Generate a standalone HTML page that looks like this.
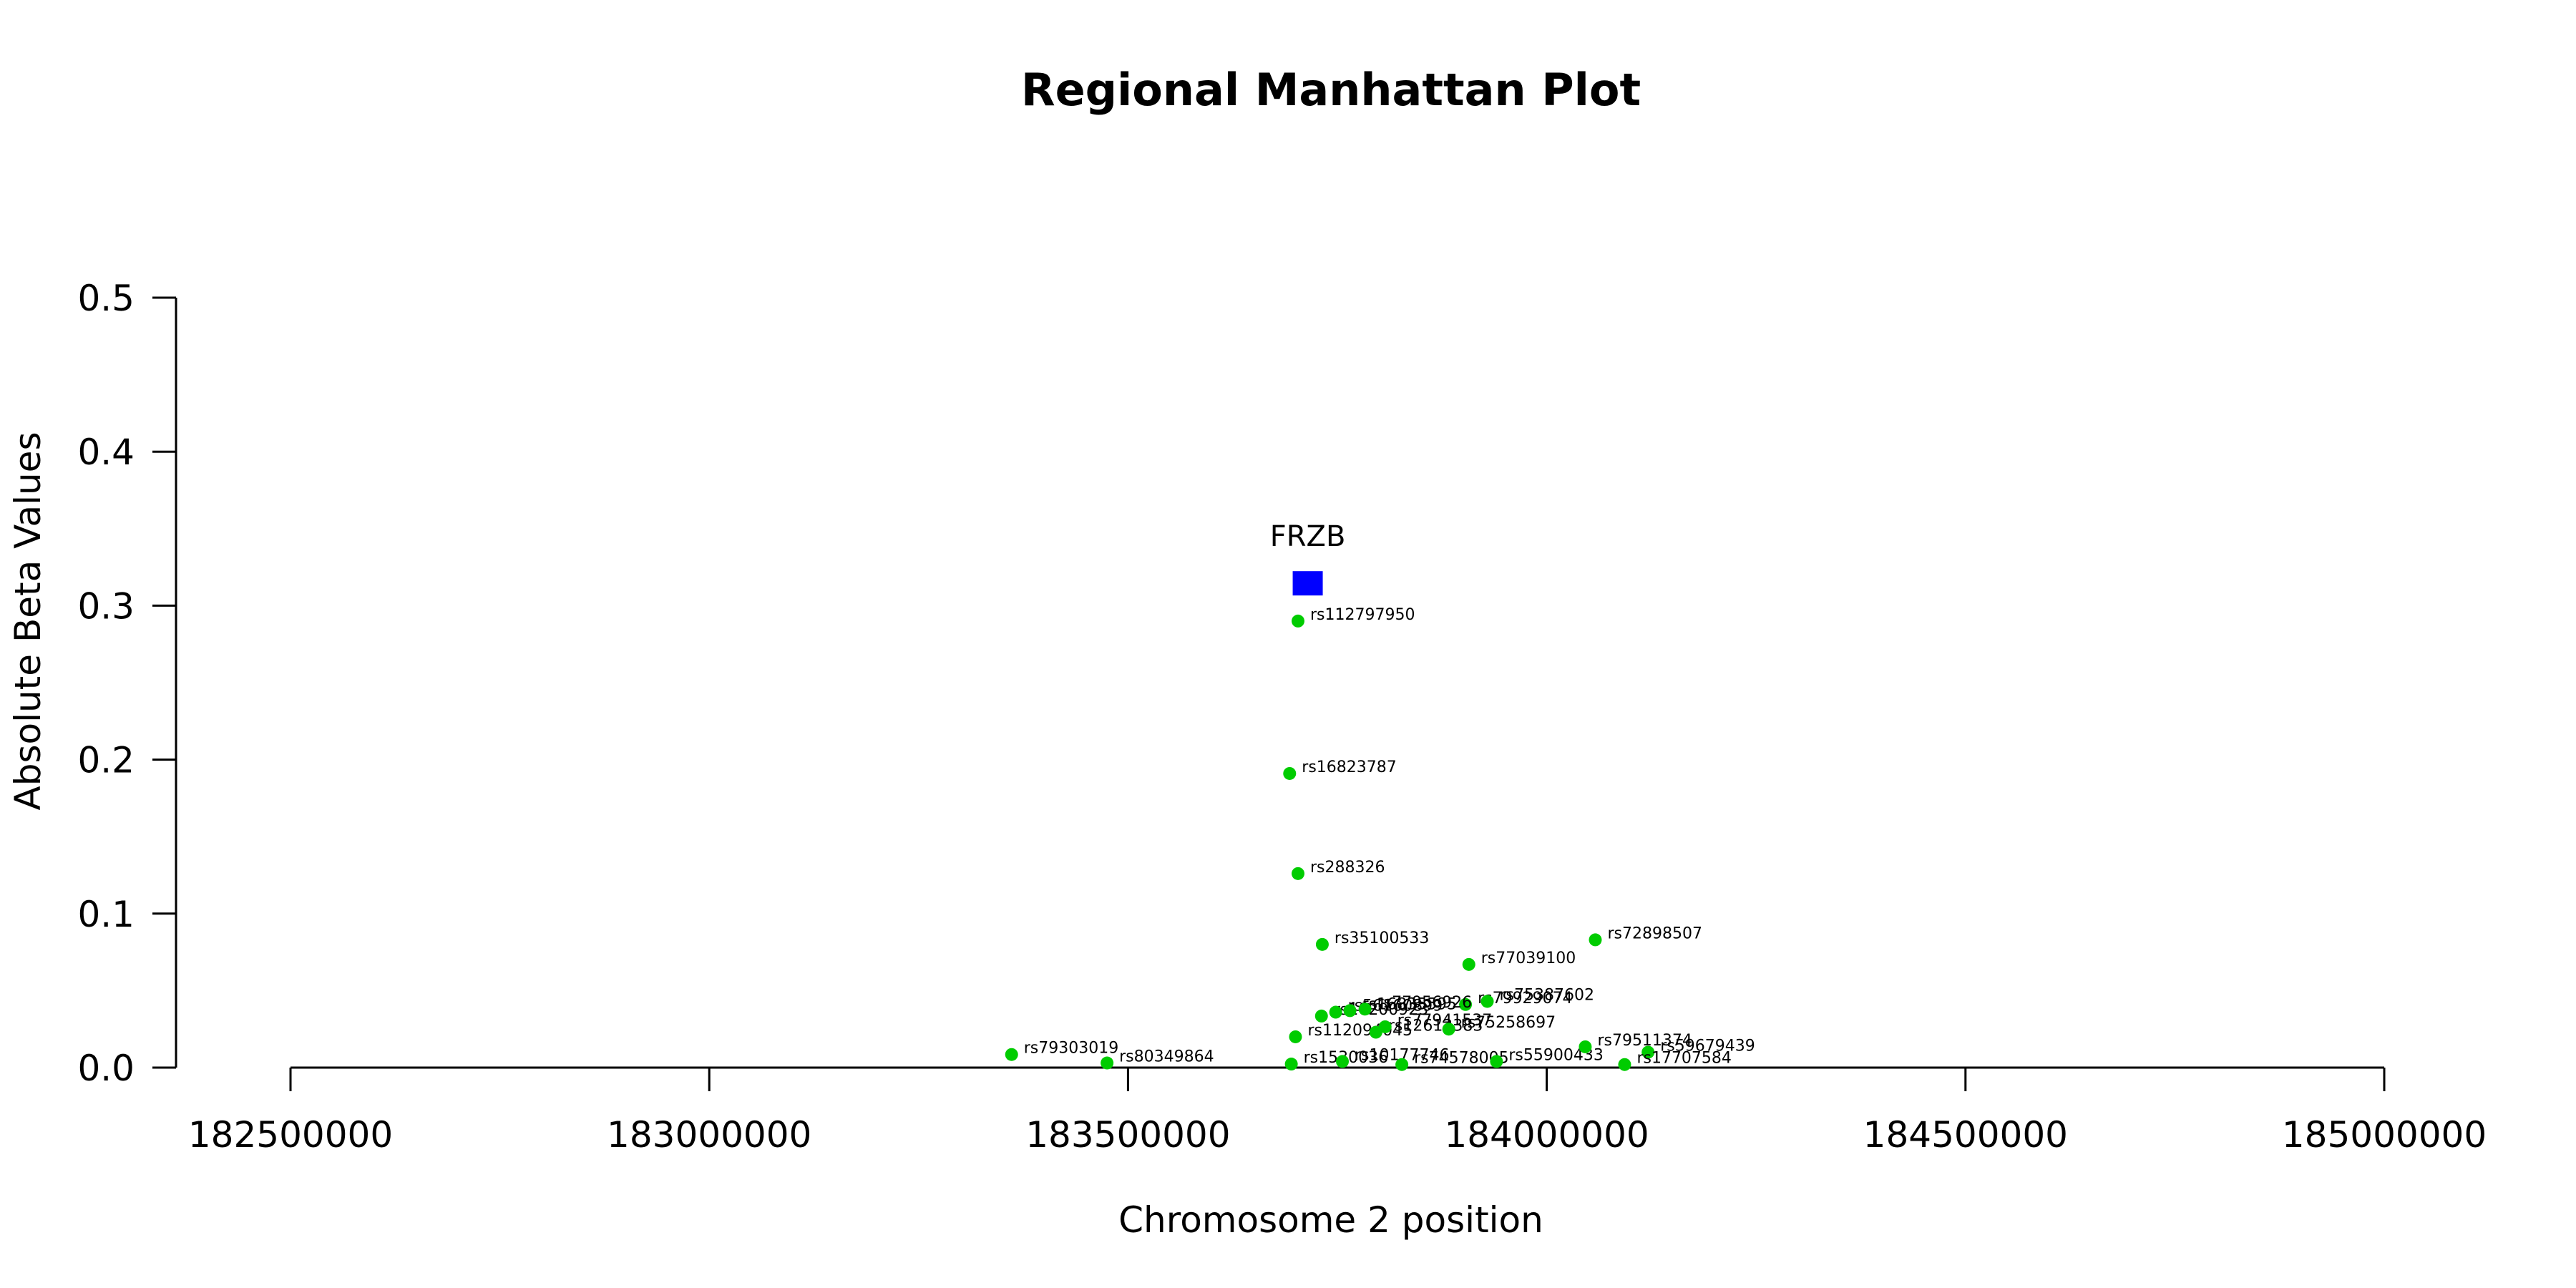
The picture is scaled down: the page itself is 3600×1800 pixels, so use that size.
<!DOCTYPE html>
<html><head><meta charset="utf-8"><style>
html,body{margin:0;padding:0;background:#fff;}
svg{display:block;font-family:"DejaVu Sans","Liberation Sans",sans-serif;}
</style></head><body>
<svg id="chart" width="3600" height="1800" viewBox="0 0 3600 1800" xmlns="http://www.w3.org/2000/svg">
<rect width="3600" height="1800" fill="#fff"/>
<text x="1860" y="147" text-anchor="middle" font-size="62" font-weight="bold">Regional Manhattan Plot</text>
<text x="1860" y="1722" text-anchor="middle" font-size="50">Chromosome 2 position</text>
<text transform="translate(56,868) rotate(-90)" text-anchor="middle" font-size="50">Absolute Beta Values</text>
<g id="axes"></g>
<g id="marks"></g>
</svg>
<script>
const snpNames = ["rs112797950","rs16823787","rs288326","rs35100533","rs77039100","rs72898507","rs79929074","rs75387602","rs10200923","rs56160899","rs16835595","rs77956926","rs112094045","rs12612383","rs77941537","rs75258697","rs1530036","rs10177746","rs74578005","rs55900433","rs79511374","rs59679439","rs17707584","rs79303019","rs80349864"];
const snpPos = [183703000,183693000,183703000,183732000,183907000,184058000,183903000,183929000,183731000,183748000,183765000,183783000,183700000,183796000,183807000,183883000,183695000,183756000,183827000,183940000,184046000,184121000,184093000,183361000,183475000];
const snpBeta = [0.290,0.191,0.126,0.080,0.067,0.083,0.041,0.043,0.0335,0.036,0.037,0.038,0.020,0.023,0.0265,0.025,0.0023,0.004,0.002,0.004,0.0135,0.010,0.002,0.0085,0.003];
const geneNames = ["FRZB"];
const genePos = [183714600];
const geneBeta = [0.3145];
const xTicks = [182500000,183000000,183500000,184000000,184500000,185000000];
const yTicks = [0.0,0.1,0.2,0.3,0.4,0.5];
const yTickLabels = ["0.0","0.1","0.2","0.3","0.4","0.5"];

const X0=406, X1=3332, Y0=1492, Y1=416;
const xS = v => X0 + (v-182500000)/(185000000-182500000)*(X1-X0);
const yS = v => Y0 - v/0.5*(Y0-Y1);
const NS="http://www.w3.org/2000/svg";
const axes=document.getElementById('axes'), marks=document.getElementById('marks');
function mk(tag,attrs,parent,txt){const e=document.createElementNS(NS,tag);for(const k in attrs)e.setAttribute(k,attrs[k]);if(txt!==undefined)e.textContent=txt;parent.appendChild(e);return e;}

let l=mk('line',{x1:X0,y1:Y0,x2:X1,y2:Y0,stroke:'#000','stroke-width':3},axes);


l=mk('line',{x1:246,y1:yS(0),x2:246,y2:yS(0.5),stroke:'#000','stroke-width':3},axes);


xTicks.forEach(v=>{
  const t=mk('line',{x1:xS(v),y1:Y0,x2:xS(v),y2:1525,stroke:'#000','stroke-width':3},axes);
  
  
  const tx=mk('text',{x:xS(v),y:1603,'text-anchor':'middle','font-size':50},axes,String(v));
  
  
});
yTicks.forEach((v,i)=>{
  const t=mk('line',{x1:213,y1:yS(v),x2:246,y2:yS(v),stroke:'#000','stroke-width':3},axes);
  
  
  const tx=mk('text',{x:188,y:yS(v)+18,'text-anchor':'end','font-size':50},axes,yTickLabels[i]);
  
  
});
snpNames.forEach((n,i)=>{
  const cx=xS(snpPos[i]), cy=yS(snpBeta[i]);
  const c=mk('circle',{cx:cx,cy:cy,r:9,fill:'#00cc00'},marks);
  
  
  const t=mk('text',{x:cx+17,y:cy-2,'font-size':22},marks,n);
  
  
});
geneNames.forEach((n,i)=>{
  const cx=xS(genePos[i]), cy=yS(geneBeta[i]);
  const r=mk('rect',{x:cx-21,y:cy-17,width:42,height:34,fill:'#0000ff'},marks);
  
  
  const t=mk('text',{x:cx,y:cy-52,'text-anchor':'middle','font-size':40},marks,n);
  
  
});
</script>
</body></html>
